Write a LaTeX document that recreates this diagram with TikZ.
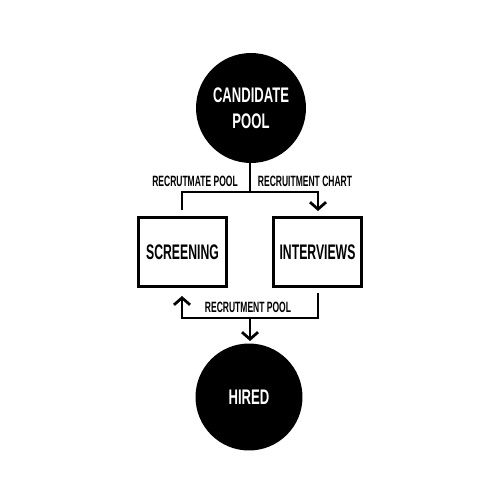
\documentclass[tikz,border=0pt]{standalone}
\usepackage{fontspec}
\setmainfont{Liberation Sans}[FakeStretch=0.62]
\newfontfamily\boxfont{Liberation Sans}[FakeStretch=0.58]
\newfontfamily\lblfont{Liberation Sans}[FakeStretch=0.57]
\usetikzlibrary{arrows.meta}
\begin{document}
\begin{tikzpicture}[x=0.02cm,y=-0.02cm,
  circ/.style={circle, fill=black, inner sep=0pt, text=white, align=center,
    font=\bfseries\fontsize{12}{15}\selectfont},
  boxn/.style={draw, line width=0.06cm, minimum width=1.78cm, minimum height=1.4cm,
    inner sep=0pt, font=\boxfont\bfseries\fontsize{12}{15}\selectfont},
  lbl/.style={font=\lblfont\bfseries\fontsize{8.5}{9}\selectfont, inner sep=0pt},
  conn/.style={line width=0.055cm},
  arr/.style={conn, -{Straight Barb[length=0.14cm, width=0.32cm]}}]
\useasboundingbox (0,0) rectangle (500,500);
\node[circ, minimum size=2.2cm] (cp) at (251,108) {CANDIDATE\\POOL};
\node[boxn] (scr) at (182.5,252) {SCREENING};
\node[boxn] (int) at (317.5,252) {INTERVIEWS};
\node[circ, minimum size=2.14cm] (hired) at (249,397) {HIRED};
\node[lbl] (l1) at (195,181) {RECRUTMATE POOL};
\node[lbl] (l2) at (305,181) {RECRUITMENT CHART};
\node[lbl] (l3) at (248,307) {RECRUTMENT POOL};
\coordinate (split) at (250,192);
\coordinate (ltop) at (182,210);
\coordinate (rtop) at (318,211);
\coordinate (rbot) at (318,293);
\coordinate (lbot) at (182,296);
\coordinate (merge) at (250,318);
\coordinate (hin) at (250,341);
\draw[conn] (cp.south -| split) -- (split);
\draw[conn] (split) -| (ltop);
\draw[arr] (split) -| (rtop);
\draw[arr] (rbot) |- (merge) -| (lbot);
\draw[arr] (merge) -- (hin);
\end{tikzpicture}
\end{document}
